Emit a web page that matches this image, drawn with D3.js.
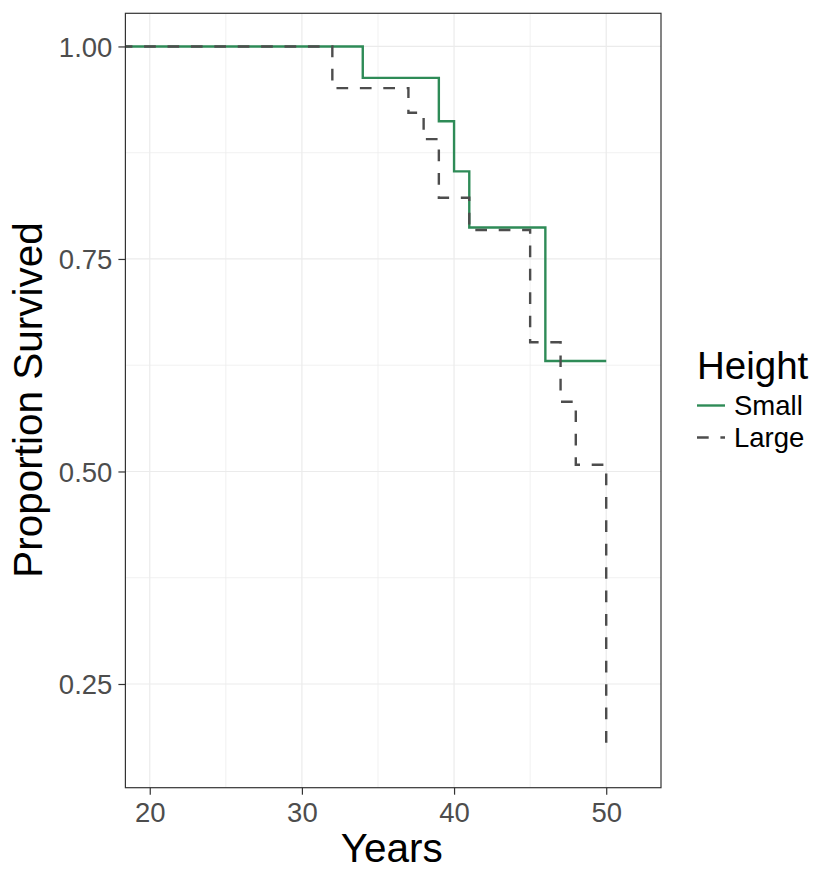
<!DOCTYPE html>
<html>
<head>
<meta charset="utf-8">
<script src="https://cdn.jsdelivr.net/npm/d3@7"></script>
<style>
  html, body { margin: 0; padding: 0; background: #fff; }
  svg { display: block; font-family: "Liberation Sans", Arial, sans-serif; }
</style>
</head>
<body>
<svg id="chart" width="818" height="871"></svg>
<script>
// Kaplan–Meier survival estimates by height group
const smallTimes  = [0, 34, 39, 40, 41, 46, 50];
const smallSurv   = [1.000, 0.963, 0.912, 0.853, 0.787, 0.630, 0.630];
const largeTimes  = [0, 32, 37, 38, 39, 41, 45, 47, 48, 50];
const largeSurv   = [1.000, 0.951, 0.922, 0.891, 0.822, 0.784, 0.652, 0.582, 0.508, 0.170];

const groupNames  = ["Small", "Large"];
const xTicks      = [20, 30, 40, 50];
const xMinor      = [25, 35, 45];
const yTicks      = [0.25, 0.50, 0.75, 1.00];
const yMinor      = [0.375, 0.625, 0.875];
const xDomain     = [18.4, 53.6];
const yDomain     = [0.128, 1.039];

const svg = d3.select("#chart");
const m = { left: 125.4, top: 13.3, right: 157, bottom: 83.3 };
const W = 818 - m.left - m.right;
const H = 871 - m.top - m.bottom;

const x = d3.scaleLinear().domain(xDomain).range([0, W]);
const y = d3.scaleLinear().domain(yDomain).range([H, 0]);

const g = svg.append("g").attr("transform", `translate(${m.left},${m.top})`);

// clip region for the panel
svg.append("defs").append("clipPath").attr("id", "panel")
  .append("rect").attr("width", W).attr("height", H);

// grid
const grid = g.append("g");
grid.selectAll(".xmin").data(xMinor).join("line")
  .attr("x1", d => x(d)).attr("x2", d => x(d)).attr("y1", 0).attr("y2", H)
  .attr("stroke", "#EBEBEB").attr("stroke-width", 0.7);
grid.selectAll(".ymin").data(yMinor).join("line")
  .attr("y1", d => y(d)).attr("y2", d => y(d)).attr("x1", 0).attr("x2", W)
  .attr("stroke", "#EBEBEB").attr("stroke-width", 0.7);
grid.selectAll(".xmaj").data(xTicks).join("line")
  .attr("x1", d => x(d)).attr("x2", d => x(d)).attr("y1", 0).attr("y2", H)
  .attr("stroke", "#EBEBEB").attr("stroke-width", 1.2);
grid.selectAll(".ymaj").data(yTicks).join("line")
  .attr("y1", d => y(d)).attr("y2", d => y(d)).attr("x1", 0).attr("x2", W)
  .attr("stroke", "#EBEBEB").attr("stroke-width", 1.2);

// survival curves
const line = d3.line().curve(d3.curveStepAfter).x(d => x(d[0])).y(d => y(d[1]));
const plot = g.append("g").attr("clip-path", "url(#panel)");

const smallData = smallTimes.map((t, i) => [t, smallSurv[i]]);
const largeData = largeTimes.map((t, i) => [t, largeSurv[i]]);

plot.append("path").datum(smallData).attr("d", line)
  .attr("fill", "none").attr("stroke", "#2E8B57").attr("stroke-width", 2.4);
plot.append("path").datum(largeData).attr("d", line)
  .attr("fill", "none").attr("stroke", "#4D4D4D").attr("stroke-width", 2.4)
  .attr("stroke-dasharray", "11.7 11.7").attr("stroke-dashoffset", 5.5);

// panel border
g.append("rect").attr("width", W).attr("height", H)
  .attr("fill", "none").attr("stroke", "#333333").attr("stroke-width", 1.2);

// axes
const xAxis = g.append("g").attr("transform", `translate(0,${H})`)
  .call(d3.axisBottom(x).tickValues(xTicks).tickFormat(d3.format("d")).tickSize(7).tickPadding(7));
const yAxis = g.append("g")
  .call(d3.axisLeft(y).tickValues(yTicks).tickFormat(d3.format(".2f")).tickSize(7).tickPadding(6));
[xAxis, yAxis].forEach(a => {
  a.select(".domain").remove();
  a.selectAll(".tick line").attr("stroke", "#333333").attr("stroke-width", 1.2);
  a.selectAll(".tick text").attr("fill", "#4D4D4D").style("font-size", "27.5px")
    .style("font-family", "'Liberation Sans', Arial, sans-serif");
});
yAxis.selectAll(".tick text").attr("dy", "0.36em");
xAxis.selectAll(".tick text").attr("dy", "0.75em");

// axis titles
svg.append("text").attr("x", m.left + W / 2 - 1.5).attr("y", 862)
  .attr("text-anchor", "middle").attr("fill", "#000").style("font-size", "40.5px")
  .text("Years");
svg.append("text").attr("transform", "translate(42,400) rotate(-90)")
  .attr("text-anchor", "middle").attr("fill", "#000").style("font-size", "40.5px")
  .text("Proportion Survived");

// legend
const lg = svg.append("g").attr("transform", "translate(697,0)");
lg.append("text").attr("x", 0).attr("y", 379).attr("fill", "#000")
  .style("font-size", "38.5px").text("Height");
const keyY = [405.5, 437.5];
const keyStyle = [
  { color: "#2E8B57", dash: null },
  { color: "#4D4D4D", dash: "11.7 11.7" }
];
groupNames.forEach((name, i) => {
  const k = lg.append("line").attr("x1", 0).attr("x2", 28)
    .attr("y1", keyY[i]).attr("y2", keyY[i])
    .attr("stroke", keyStyle[i].color).attr("stroke-width", 2.4);
  if (keyStyle[i].dash) k.attr("stroke-dasharray", keyStyle[i].dash);
  lg.append("text").attr("x", 37).attr("y", keyY[i] + 9.8).attr("fill", "#000")
    .style("font-size", "27.5px").text(name);
});
</script>
</body>
</html>
